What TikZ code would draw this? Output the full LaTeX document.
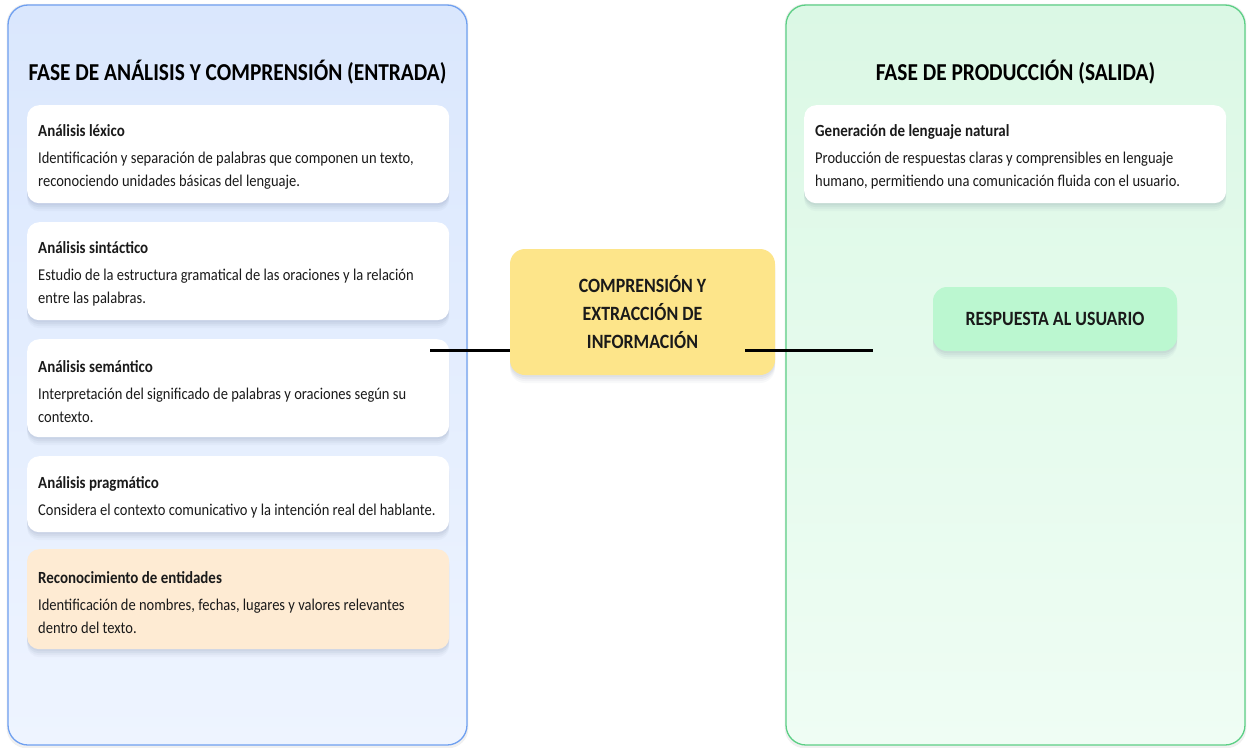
\documentclass[tikz,border=0pt]{standalone}
\usepackage{fontspec}
\setmainfont{Carlito}[FakeStretch=0.88]
\usetikzlibrary{shadows}
\definecolor{lborder}{HTML}{6FA0F0}
\definecolor{ltop}{HTML}{DAE7FD}
\definecolor{lbot}{HTML}{EEF4FF}
\definecolor{rborder}{HTML}{5CCF85}
\definecolor{rtop}{HTML}{DBF8E5}
\definecolor{rbot}{HTML}{EFFDF4}
\definecolor{cardorange}{HTML}{FEEBD3}
\definecolor{midyellow}{HTML}{FDE58A}
\definecolor{respgreen}{HTML}{BBF7D0}
\definecolor{txt}{HTML}{1A1A1A}
\definecolor{shade}{HTML}{3A4A70}
\begin{document}
\begin{tikzpicture}[x=1pt,y=-1pt,
  softshadow/.style={
    general shadow={shadow yshift=-2pt, fill=shade, opacity=0.05},
    general shadow={shadow yshift=-4pt, fill=shade, opacity=0.05},
    general shadow={shadow yshift=-6pt, fill=shade, opacity=0.04},
    general shadow={shadow yshift=-8pt, fill=shade, opacity=0.03}},
  panel/.style={draw, line width=1.3pt, rounded corners=20pt, minimum width=459pt, minimum height=740pt,
    general shadow={shadow yshift=-1pt, shadow scale=1.006, fill=black, opacity=0.06}},
  card/.style={anchor=north west, fill=white, rounded corners=12pt, minimum height=98pt,
    text width=400pt, inner xsep=11pt, inner ysep=0pt, align=flush left, text=txt,
    font=\fontsize{16.5}{23}\selectfont, softshadow},
  ptitle/.style={font=\bfseries\fontsize{24.3}{28}\selectfont, text=black},
  connector/.style={line width=3pt, black},
]
\useasboundingbox (0,0) rectangle (1253,747);
\fill[white] (0,0) rectangle (1253,747);

% panels
\node[panel, draw=lborder, top color=ltop, bottom color=lbot] (left) at (237.5,375) {};
\node[panel, draw=rborder, top color=rtop, bottom color=rbot] (right) at (1015.5,375) {};

\node[ptitle] (ltitle) at (237.5,72) {FASE DE ANÁLISIS Y COMPRENSIÓN (ENTRADA)};
\node[ptitle] (rtitle) at (1015.5,72) {FASE DE PRODUCCIÓN (SALIDA)};

\newcommand{\cardtext}[2]{{\bfseries\fontsize{17}{23}\selectfont\rule{0pt}{18pt}#1}\\[4pt]#2}

\node[card] (c1) at (27,105) {\cardtext{Análisis léxico}{Identificación y separación de palabras que componen un texto,\\reconociendo unidades básicas del lenguaje.}};
\node[card] (c2) at (27,222) {\cardtext{Análisis sintáctico}{Estudio de la estructura gramatical de las oraciones y la relación\\entre las palabras.}};
\node[card] (c3) at (27,339) {\cardtext{Análisis semántico}{Interpretación del significado de palabras y oraciones según su\\contexto.}};
\node[card, minimum height=76pt] (c4) at (27,456) {\cardtext{Análisis pragmático}{Considera el contexto comunicativo y la intención real del hablante.}};
\node[card, fill=cardorange, minimum height=100pt] (c5) at (27,549) {\cardtext{Reconocimiento de entidades}{Identificación de nombres, fechas, lugares y valores relevantes\\dentro del texto.}};

\node[card] (g1) at (804,105) {\cardtext{Generación de lenguaje natural}{Producción de respuestas claras y comprensibles en lenguaje\\humano, permitiendo una comunicación fluida con el usuario.}};

% middle
\node[fill=midyellow, rounded corners=15pt, minimum width=265pt, minimum height=126pt, align=flush center,
  font=\bfseries\fontsize{20.3}{28}\selectfont, text=txt, softshadow]
  (mid) at (642.5,312) {COMPRENSIÓN Y\\EXTRACCIÓN DE\\INFORMACIÓN};

\node[fill=respgreen, rounded corners=14pt, minimum width=244pt, minimum height=64pt,
  font=\bfseries\fontsize{20.3}{24}\selectfont, text=txt, softshadow]
  (resp) at (1055,319) {RESPUESTA AL USUARIO};

% connectors
\coordinate (la) at (430,350);
\coordinate (lb) at (510,350);
\coordinate (ra) at (745,350);
\coordinate (rb) at (873,350);
\draw[connector] (la) -- (lb);
\draw[connector] (ra) -- (rb);
\end{tikzpicture}
\end{document}
